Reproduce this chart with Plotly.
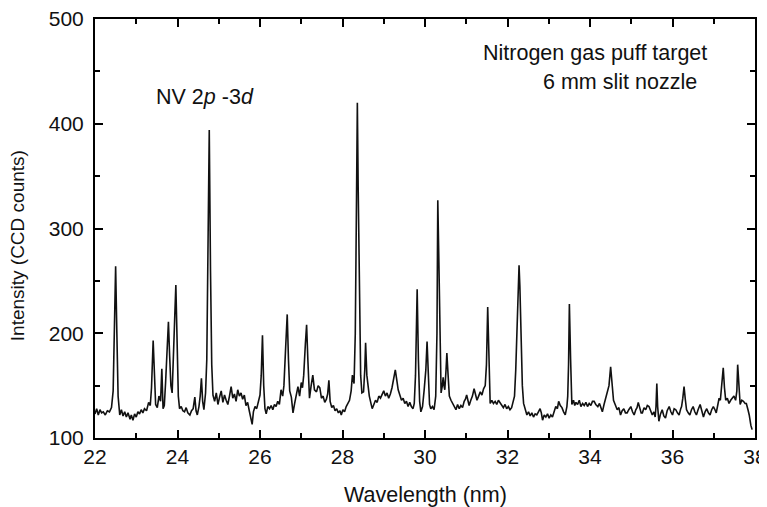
import plotly.graph_objects as go

wavelength_nm = [
    22.00, 22.04, 22.08, 22.12, 22.16, 22.20, 22.25, 22.30, 22.35, 22.40, 22.44, 22.47, 22.50, 22.53, 22.56,
    22.60, 22.64, 22.68, 22.72, 22.76, 22.80, 22.85, 22.88, 22.92, 22.96, 23.00, 23.04, 23.08, 23.12, 23.16,
    23.20, 23.25, 23.30, 23.34, 23.37, 23.41, 23.44, 23.47, 23.51, 23.55, 23.59, 23.62, 23.65, 23.68, 23.71,
    23.75, 23.78, 23.81, 23.84, 23.87, 23.90, 23.93, 23.96, 23.99, 24.02, 24.05, 24.09, 24.13, 24.17, 24.21,
    24.25, 24.30, 24.34, 24.38, 24.42, 24.45, 24.48, 24.52, 24.55, 24.58, 24.61, 24.64, 24.68, 24.71, 24.74,
    24.77, 24.80, 24.83, 24.86, 24.90, 24.94, 24.98, 25.02, 25.06, 25.10, 25.14, 25.18, 25.22, 25.26, 25.30,
    25.34, 25.38, 25.42, 25.46, 25.50, 25.54, 25.58, 25.62, 25.66, 25.70, 25.74, 25.78, 25.81, 25.84, 25.88,
    25.92, 25.96, 26.00, 26.03, 26.06, 26.09, 26.12, 26.15, 26.19, 26.23, 26.27, 26.31, 26.35, 26.39, 26.43,
    26.47, 26.51, 26.55, 26.58, 26.62, 26.66, 26.69, 26.72, 26.76, 26.80, 26.84, 26.88, 26.92, 26.96, 27.00,
    27.03, 27.06, 27.10, 27.13, 27.16, 27.20, 27.24, 27.28, 27.32, 27.37, 27.41, 27.45, 27.49, 27.53, 27.57,
    27.61, 27.64, 27.67, 27.70, 27.74, 27.78, 27.82, 27.86, 27.90, 27.94, 27.97, 28.01, 28.05, 28.09, 28.13,
    28.17, 28.21, 28.24, 28.28, 28.31, 28.34, 28.36, 28.38, 28.41, 28.44, 28.47, 28.51, 28.54, 28.56, 28.59,
    28.62, 28.65, 28.69, 28.72, 28.76, 28.80, 28.84, 28.88, 28.92, 28.96, 29.00, 29.04, 29.08, 29.12, 29.16,
    29.20, 29.24, 29.28, 29.31, 29.35, 29.39, 29.43, 29.47, 29.51, 29.55, 29.59, 29.63, 29.67, 29.71, 29.74,
    29.77, 29.81, 29.84, 29.87, 29.90, 29.94, 29.98, 30.02, 30.05, 30.08, 30.11, 30.14, 30.18, 30.22, 30.26,
    30.29, 30.31, 30.34, 30.37, 30.39, 30.42, 30.44, 30.46, 30.48, 30.51, 30.53, 30.56, 30.59, 30.63, 30.67,
    30.71, 30.75, 30.79, 30.83, 30.87, 30.91, 30.95, 30.98, 31.01, 31.04, 31.07, 31.11, 31.15, 31.19, 31.23,
    31.26, 31.30, 31.34, 31.38, 31.42, 31.46, 31.49, 31.52, 31.55, 31.58, 31.62, 31.66, 31.70, 31.74, 31.78,
    31.82, 31.86, 31.90, 31.94, 31.98, 32.02, 32.06, 32.10, 32.14, 32.17, 32.20, 32.23, 32.26, 32.28, 32.30,
    32.33, 32.36, 32.39, 32.43, 32.47, 32.51, 32.55, 32.59, 32.63, 32.67, 32.71, 32.75, 32.79, 32.82, 32.85,
    32.89, 32.93, 32.97, 33.01, 33.05, 33.09, 33.13, 33.17, 33.21, 33.24, 33.28, 33.32, 33.36, 33.40, 33.44,
    33.46, 33.48, 33.50, 33.53, 33.56, 33.60, 33.63, 33.66, 33.70, 33.74, 33.78, 33.82, 33.86, 33.90, 33.94,
    33.98, 34.02, 34.06, 34.10, 34.14, 34.19, 34.23, 34.27, 34.30, 34.34, 34.38, 34.42, 34.46, 34.50, 34.53,
    34.57, 34.61, 34.66, 34.70, 34.74, 34.78, 34.82, 34.86, 34.90, 34.94, 34.99, 35.03, 35.07, 35.11, 35.14,
    35.17, 35.21, 35.24, 35.27, 35.31, 35.35, 35.39, 35.43, 35.47, 35.51, 35.55, 35.58, 35.60, 35.62, 35.64,
    35.67, 35.71, 35.75, 35.79, 35.83, 35.87, 35.92, 35.96, 36.00, 36.04, 36.08, 36.12, 36.16, 36.20, 36.22,
    36.25, 36.28, 36.31, 36.34, 36.38, 36.42, 36.46, 36.50, 36.54, 36.58, 36.62, 36.67, 36.71, 36.75, 36.79,
    36.83, 36.87, 36.91, 36.95, 36.99, 37.03, 37.06, 37.10, 37.13, 37.16, 37.18, 37.21, 37.23, 37.26, 37.29,
    37.33, 37.37, 37.41, 37.45, 37.49, 37.53, 37.56, 37.58, 37.61, 37.64, 37.68, 37.72, 37.76, 37.79, 37.83,
    37.86, 37.90, 37.93,
]

intensity_counts = [
    123, 128, 122, 127, 124, 125, 122, 126, 125, 129, 145, 200, 264, 200, 140,
    122, 127, 121, 125, 120, 124, 118, 122, 117, 123, 120, 125, 123, 127, 124,
    128, 126, 134, 131, 148, 193, 150, 132, 129, 140, 135, 166, 128, 131, 152,
    185, 211, 178, 150, 143, 190, 212, 246, 190, 140, 128, 130, 126, 125, 129,
    124, 122, 126, 128, 139, 126, 122, 130, 140, 157, 135, 127, 143, 175, 260,
    394, 260, 170, 141, 135, 143, 132, 139, 145, 134, 141, 136, 132, 140, 149,
    138, 142, 135, 146, 140, 143, 137, 141, 131, 134, 126, 120, 113, 125, 130,
    128, 136, 141, 160, 198, 150, 128, 123, 130, 128, 131, 127, 132, 130, 135,
    132, 146, 140, 150, 185, 218, 175, 145, 139, 124, 133, 142, 149, 140, 153,
    148, 160, 190, 208, 175, 138, 150, 160, 146, 144, 150, 148, 138, 140, 134,
    137, 142, 155, 135, 129, 131, 126, 128, 124, 126, 122, 127, 125, 130, 133,
    136, 145, 160, 152, 200, 330, 420, 340, 230, 160, 143, 144, 165, 191, 160,
    147, 140, 133, 128, 132, 136, 134, 140, 138, 142, 145, 140, 143, 138, 142,
    148, 155, 165, 157, 146, 141, 136, 138, 133, 135, 130, 134, 130, 128, 133,
    160, 242, 175, 135, 125, 130, 146, 165, 192, 160, 132, 128, 130, 127, 140,
    200, 327, 260, 180, 143, 150, 158, 150, 146, 165, 181, 160, 140, 136, 133,
    130, 127, 132, 128, 131, 129, 135, 137, 141, 135, 131, 136, 140, 147, 142,
    136, 140, 144, 141, 147, 150, 170, 225, 170, 133, 136, 133, 135, 132, 136,
    134, 131, 129, 132, 128, 130, 127, 129, 134, 140, 165, 205, 250, 265, 245,
    190, 150, 133, 128, 122, 125, 121, 124, 120, 123, 122, 125, 128, 124, 117,
    122, 120, 123, 119, 122, 120, 125, 130, 128, 135, 131, 129, 125, 122, 130,
    140, 170, 228, 175, 132, 136, 131, 134, 132, 136, 130, 133, 131, 134, 130,
    133, 131, 135, 135, 132, 130, 133, 128, 125, 132, 138, 143, 150, 168, 150,
    136, 132, 127, 129, 122, 126, 128, 124, 124, 127, 130, 125, 122, 127, 129,
    134, 127, 124, 124, 129, 127, 131, 130, 126, 122, 125, 120, 130, 152, 130,
    116, 123, 127, 121, 119, 126, 130, 125, 122, 128, 127, 124, 122, 128, 130,
    138, 149, 137, 127, 124, 122, 127, 130, 125, 122, 127, 132, 126, 120, 125,
    128, 124, 122, 127, 130, 127, 124, 132, 138, 136, 144, 155, 167, 148, 136,
    138, 133, 136, 138, 140, 136, 145, 170, 145, 132, 136, 135, 133, 133, 127,
    122, 112, 108,
]

x_ticks = [22, 24, 26, 28, 30, 32, 34, 36, 38]
y_ticks = [100, 200, 300, 400, 500]

FONT = "Liberation Sans, Arial, sans-serif"

fig = go.Figure()
fig.add_trace(go.Scatter(
    x=wavelength_nm, y=intensity_counts, mode="lines",
    line=dict(color="#111111", width=1.6), showlegend=False,
))

axis_common = dict(
    showline=True, linecolor="black", linewidth=2, mirror="allticks",
    ticks="inside", ticklen=8, tickwidth=2, tickcolor="black",
    showgrid=False, zeroline=False, automargin=False,
    ticklabeloverflow="allow",
    tickfont=dict(family=FONT, size=21, color="#111111"),
)

fig.update_xaxes(
    range=[22, 38], tickvals=x_ticks, ticktext=[str(v) for v in x_ticks],
    minor=dict(dtick=1, tick0=22, ticks="inside", ticklen=5, tickwidth=2, tickcolor="black"),
    ticklabelstandoff=-1,
    **axis_common,
)
fig.update_yaxes(
    range=[100, 500], tickvals=y_ticks, ticktext=[str(v) for v in y_ticks],
    minor=dict(dtick=50, tick0=100, ticks="inside", ticklen=5, tickwidth=2, tickcolor="black"),
    ticklabelstandoff=5,
    **axis_common,
)

ANN_SIZE = 21.5
fig.add_annotation(x=24.67, y=425.5, xref="x", yref="y", showarrow=False,
                   text="NV 2<i>p</i> -3<i>d</i>",
                   font=dict(family=FONT, size=ANN_SIZE, color="#111111"))
fig.add_annotation(x=34.12, y=467.5, xref="x", yref="y", showarrow=False,
                   text="Nitrogen gas puff target",
                   font=dict(family=FONT, size=ANN_SIZE, color="#111111"))
fig.add_annotation(x=34.73, y=440, xref="x", yref="y", showarrow=False,
                   text="6 mm slit nozzle",
                   font=dict(family=FONT, size=ANN_SIZE, color="#111111"))

fig.add_annotation(x=0.5015, y=-0.136, xref="paper", yref="paper", showarrow=False,
                   text="Wavelength (nm)", yanchor="middle", xanchor="center",
                   font=dict(family=FONT, size=21.5, color="#111111"))
fig.add_annotation(x=-0.118, y=0.458, xref="paper", yref="paper", showarrow=False,
                   text="Intensity (CCD counts)", textangle=-90,
                   yanchor="middle", xanchor="center",
                   font=dict(family=FONT, size=19, color="#111111"))

# The page body has an 8px default margin; size the figure so the plot area
# lands where it does in the reference.
fig.update_layout(
    width=759, height=499,
    margin=dict(l=87, r=12, t=11, b=69),
    paper_bgcolor="white", plot_bgcolor="white",
)

fig.write_html("out.html")
